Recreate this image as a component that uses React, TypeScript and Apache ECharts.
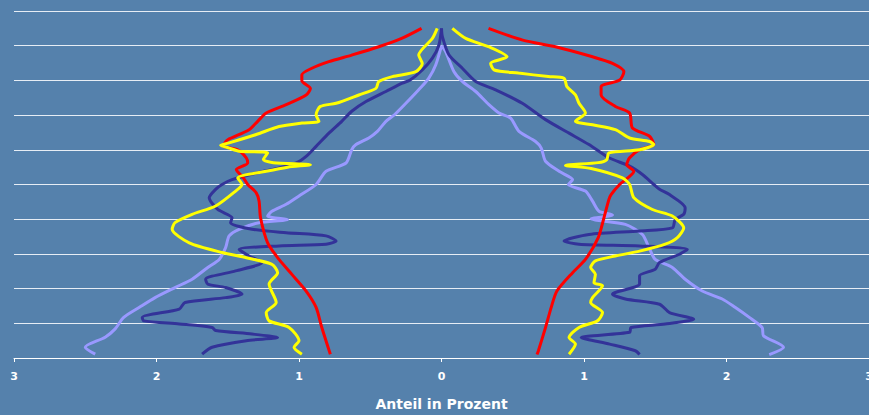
import React, { useEffect, useRef } from "react";
import * as echarts from "echarts";

// [percent, age] pairs; left side (men) stored as positive magnitudes
const redLeft: number[][] = [
  [0.78, 1.1], [0.84, 8.8], [0.88, 14.6], [0.95, 19.3], [1.05, 24.1], [1.14, 28.4], [1.22, 33.2],
  [1.27, 40.4], [1.28, 45.2], [1.3, 47.6], [1.36, 50], [1.39, 51.9], [1.44, 54.3], [1.36, 56.2],
  [1.37, 57.7], [1.43, 60], [1.53, 61], [1.52, 62], [1.5, 62.9], [1.35, 65.8], [1.29, 68.2],
  [1.23, 70.6], [1.09, 73], [0.95, 75.8], [0.92, 77.7], [0.98, 79.9], [0.98, 81.6], [0.91, 83.5],
  [0.79, 85.4], [0.63, 87.3], [0.44, 89.7], [0.28, 92.1], [0.14, 95],
];
const yellowLeft: number[][] = [
  [0.98, 1.1], [1.035, 3.1], [1.0, 5.0], [1.07, 8.8], [1.21, 10.7], [1.23, 13.1], [1.16, 16.0],
  [1.21, 21.3], [1.15, 24.6], [1.19, 27.0], [1.37, 28.9], [1.54, 30.4], [1.77, 33.2], [1.89, 37.1],
  [1.87, 39.0], [1.75, 41.4], [1.585, 43.8], [1.445, 48.1], [1.4, 50], [1.43, 51.9], [1.23, 53.8],
  [1.08, 55.0], [0.92, 55.7], [1.18, 56.3], [1.25, 57.2], [1.22, 59.1], [1.42, 59.6], [1.49, 60.5],
  [1.55, 61.3], [1.49, 62.0], [1.3, 64.4], [1.14, 66.7], [0.98, 67.7], [0.86, 68.2], [0.88, 70.1],
  [0.85, 72.5], [0.74, 73.4], [0.58, 75.8], [0.46, 77.7], [0.44, 79.7], [0.345, 81.1], [0.18, 82.5],
  [0.135, 84.9], [0.16, 87.3], [0.064, 92.1], [0.03, 95],
];
const darkLeft: number[][] = [
  [1.68, 1.1], [1.61, 3.1], [1.37, 5.0], [1.15, 5.9], [1.33, 6.9], [1.585, 7.9], [1.61, 8.8],
  [1.84, 9.8], [2.09, 10.7], [2.1, 11.7], [1.84, 14.1], [1.8, 16.0], [1.515, 17.4], [1.4, 18.4],
  [1.515, 20.3], [1.64, 21.3], [1.655, 22.7], [1.445, 25.1], [1.26, 27.5], [1.35, 29.4], [1.42, 31.3],
  [1.14, 32.3], [0.81, 32.8], [0.74, 33.7], [0.81, 35.2], [1.09, 36.1], [1.33, 37.1], [1.48, 39.0],
  [1.47, 40.4], [1.57, 42.8], [1.63, 46.2], [1.585, 48.6], [1.54, 50], [1.47, 51.4], [1.3, 53.3],
  [1.14, 54.8], [1.02, 56.2], [0.95, 58.1], [0.88, 61.0], [0.79, 64.8], [0.7, 68.2], [0.63, 71.1],
  [0.53, 73.9], [0.39, 76.8], [0.275, 79.2], [0.22, 80.1], [0.135, 83.0], [0.064, 86.4],
  [0.018, 90.2], [0.0, 95],
];
const lightLeft: number[][] = [
  [2.43, 1.1], [2.5, 3.1], [2.36, 6.0], [2.29, 8.4], [2.23, 11.7], [2.12, 14.6], [2.01, 17.4],
  [1.87, 20.3], [1.75, 22.7], [1.64, 26.1], [1.56, 28.4], [1.515, 31.8], [1.49, 35.2], [1.42, 37.1],
  [1.28, 39.0], [1.08, 39.9], [1.22, 40.9], [1.19, 42.3], [1.09, 44.3], [1.0, 46.7], [0.88, 50],
  [0.81, 53.8], [0.67, 56.2], [0.63, 60], [0.6, 61.5], [0.51, 63.4], [0.45, 65.3], [0.39, 68.2],
  [0.33, 70.1], [0.25, 73.4], [0.16, 77.3], [0.09, 80.6], [0.04, 84.5], [0.0, 90],
];

// right side (women)
const redRight: number[][] = [
  [0.67, 1.0], [0.68, 2.1], [0.73, 8.8], [0.77, 14.6], [0.81, 19.3], [0.92, 24.6], [1.01, 28.4],
  [1.1, 34.7], [1.14, 40.4], [1.175, 45.7], [1.19, 47.1], [1.25, 50], [1.35, 53.8], [1.3, 55.7],
  [1.32, 57.7], [1.39, 60], [1.49, 61.5], [1.46, 63.9], [1.34, 66.3], [1.32, 70.6], [1.22, 72.5],
  [1.12, 75.8], [1.12, 78.2], [1.25, 80.1], [1.28, 82.5], [1.2, 84.9], [1.06, 86.8], [0.8, 89.7],
  [0.57, 91.6], [0.33, 95],
];
const yellowRight: number[][] = [
  [0.895, 1.1], [0.94, 4.0], [0.895, 5.9], [0.965, 8.8], [1.094, 10.7], [1.13, 13.1], [1.047, 16.0],
  [1.06, 17.4], [1.13, 20.8], [1.07, 21.7], [1.08, 24.1], [1.047, 26.1], [1.08, 28.0], [1.22, 29.4],
  [1.39, 30.8], [1.57, 32.8], [1.655, 34.7], [1.7, 37.5], [1.62, 40.9], [1.48, 42.8], [1.35, 46.2],
  [1.32, 50], [1.27, 51.9], [1.05, 54.6], [0.87, 55.5], [1.1, 56.3], [1.16, 57.2], [1.175, 59.1],
  [1.39, 60], [1.49, 61.5], [1.46, 62.4], [1.32, 63.4], [1.22, 65.8], [1.06, 67.2], [0.94, 68.2],
  [1.01, 70.6], [0.965, 73.4], [0.94, 75.8], [0.88, 78.2], [0.86, 80.6], [0.75, 81.1], [0.54, 82.1],
  [0.37, 83.0], [0.345, 84.9], [0.46, 86.8], [0.33, 89.7], [0.17, 92.1], [0.076, 95],
];
const darkRight: number[][] = [
  [1.39, 1.0], [1.36, 2.1], [1.18, 4.0], [0.98, 5.9], [1.32, 7.4], [1.33, 8.8], [1.57, 9.8],
  [1.77, 11.2], [1.6, 13.1], [1.53, 15.5], [1.29, 17.0], [1.2, 18.4], [1.39, 21.3], [1.39, 23.7],
  [1.5, 25.6], [1.53, 27.5], [1.67, 29.9], [1.725, 31.3], [1.39, 32.3], [0.965, 32.8], [0.86, 33.7],
  [1.035, 35.6], [1.39, 36.6], [1.62, 37.5], [1.64, 39.9], [1.7, 41.4], [1.71, 43.3], [1.6, 47.1],
  [1.53, 48.6], [1.49, 50], [1.41, 52.9], [1.32, 55.3], [1.175, 57.7], [1.035, 61.5], [0.895, 64.8],
  [0.73, 68.7], [0.567, 73.4], [0.38, 77.3], [0.24, 79.7], [0.146, 83.5], [0.053, 87.3],
  [0.006, 92.6], [0.0, 95],
];
const lightRight: number[][] = [
  [2.3, 1.0], [2.4, 3.1], [2.26, 6.4], [2.25, 8.8], [2.16, 11.7], [2.06, 14.6], [1.97, 17.0],
  [1.83, 19.3], [1.71, 22.7], [1.62, 26.1], [1.5, 28.4], [1.456, 31.8], [1.41, 35.6], [1.29, 38.5],
  [1.05, 40.1], [1.2, 41.2], [1.105, 42.3], [1.06, 45.2], [1.01, 48.1], [0.89, 50], [0.92, 51.4],
  [0.825, 53.8], [0.73, 56.7], [0.7, 60.5], [0.66, 62.4], [0.544, 65.3], [0.485, 69.1],
  [0.404, 70.6], [0.333, 73.0], [0.24, 76.8], [0.146, 79.7], [0.088, 82.5], [0.029, 88.3], [0.0, 90],
];

const xTicks = [-3, -2, -1, 0, 1, 2, 3];
const axisTitle = "Anteil in Prozent";

const COLORS = { red: "#ff0000", yellow: "#ffff00", dark: "#333399", light: "#9999ff" };

function mkSeries(name: string, pts: number[][], sign: number, color: string) {
  return {
    name,
    type: "line",
    data: pts.map(([v, a]) => [sign * v, a]),
    showSymbol: false,
    symbol: "none",
    smooth: 0.25,
    lineStyle: { color, width: 3 },
    itemStyle: { color },
  };
}

export default function App() {
  const ref = useRef<HTMLDivElement>(null);
  useEffect(() => {
    if (!ref.current) return;
    const chart = echarts.init(ref.current, undefined, { renderer: "svg", width: 869, height: 415 });
    chart.setOption({
      animation: false,
      backgroundColor: "#5581ac",
      grid: { left: 14, right: 0, top: 11, bottom: 57, containLabel: false, outerBoundsMode: "none" },
      xAxis: {
        type: "value",
        min: xTicks[0],
        max: xTicks[xTicks.length - 1],
        interval: 1,
        name: axisTitle,
        nameLocation: "middle",
        nameGap: 39,
        nameTextStyle: { color: "#ffffff", fontWeight: "bold", fontSize: 14, fontFamily: "DejaVu Sans" },
        axisLine: { show: true, lineStyle: { color: "#ffffff", width: 1 } },
        axisTick: { show: true, length: 4, lineStyle: { color: "#ffffff" } },
        axisLabel: {
          color: "#ffffff",
          fontWeight: "bold",
          fontSize: 11,
          fontFamily: "DejaVu Sans",
          margin: 13,
          showMinLabel: true,
          showMaxLabel: true,
          hideOverlap: false,
          formatter: (v: number) => String(Math.abs(v)),
        },
        splitLine: { show: false },
      },
      yAxis: {
        type: "value",
        min: 0,
        max: 100,
        interval: 10,
        axisLine: { show: false },
        axisTick: { show: false },
        axisLabel: { show: false },
        splitLine: { show: true, lineStyle: { color: "#e6edf5", width: 1 } },
      },
      series: [
        mkSeries("lightL", lightLeft, -1, COLORS.light),
        mkSeries("lightR", lightRight, 1, COLORS.light),
        mkSeries("darkL", darkLeft, -1, COLORS.dark),
        mkSeries("darkR", darkRight, 1, COLORS.dark),
        mkSeries("redL", redLeft, -1, COLORS.red),
        mkSeries("redR", redRight, 1, COLORS.red),
        mkSeries("yellowL", yellowLeft, -1, COLORS.yellow),
        mkSeries("yellowR", yellowRight, 1, COLORS.yellow),
      ],
    });
    return () => chart.dispose();
  }, []);
  return (
    <div
      ref={ref}
      style={{ position: "fixed", left: 0, top: 0, width: 869, height: 415, background: "#5581ac" }}
    />
  );
}
